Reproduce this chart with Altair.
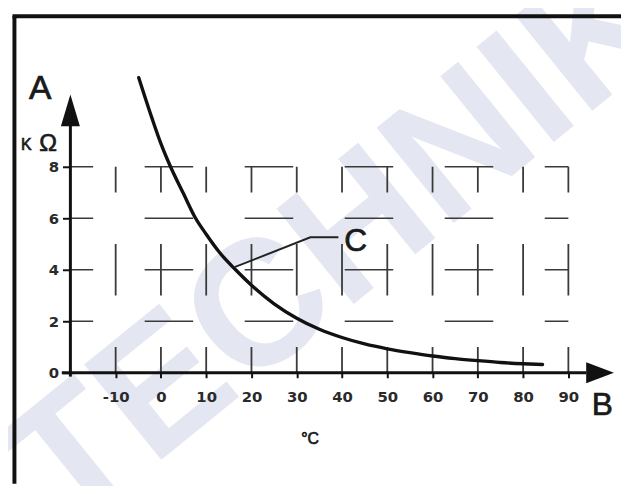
import altair as alt
import pandas as pd

# ---- data ----
temp_c = [-4.9, -2, 0, 2, 5, 7.5, 10, 13, 16.5, 20, 25, 30, 35, 40, 45, 50, 55, 60, 65, 70, 75, 80, 84.3]
res_kohm = [11.46, 9.9, 8.9, 8.05, 6.95, 6.05, 5.38, 4.66, 4.0, 3.4, 2.68, 2.12, 1.69, 1.37, 1.12, 0.93, 0.78, 0.65, 0.55, 0.47, 0.4, 0.35, 0.32]

x_ticks = [-10, 0, 10, 20, 30, 40, 50, 60, 70, 80, 90]
y_ticks = [0, 2, 4, 6, 8]
grid_rows = [2, 4, 6, 8]
grid_x_span = [-20, 90]
grid_y_span = [0, 8]

axis_x_span = [-21.9, 94.0]
axis_y_span = [-0.15, 9.6]
arrow_x_tip = [97.0, 0.0]
arrow_y_tip = [-20.0, 10.19]

leader_t = [16.25, 33.0, 39.2]
leader_r = [4.10, 5.26, 5.26]

label_text = ["A", "K", "Ω", "B", "C", "°C"]
label_t = [-26.67, -29.73, -24.9, 97.47, 43.0, 32.94]
label_r = [11.02, 8.85, 8.9, -1.27, 5.13, -2.56]
label_size = [34, 16, 24, 32, 32, 16]

watermark = "TECHNIK"
watermark_pos = [39.9, 4.96]

# ---- scales / axes ----
xs = alt.Scale(domain=[-20, 99], nice=False, zero=False)
ys = alt.Scale(domain=[0, 14], nice=False, zero=False)

x_axis = alt.Axis(values=x_ticks, domain=False, grid=False, tickSize=5, tickWidth=2,
                  tickColor="#111111", labelFont="DejaVu Sans", labelFontSize=15,
                  labelFontWeight="bold", labelColor="#2a2a2a", labelPadding=12,
                  labelFlush=False, labelOverlap=False, labelExpr="datum.value + ''",
                  zindex=2, title=None)
y_axis = alt.Axis(values=y_ticks, domain=False, grid=False, tickSize=8, tickWidth=2,
                  tickColor="#111111", labelFont="DejaVu Sans", labelFontSize=15,
                  labelFontWeight="bold", labelColor="#2a2a2a", labelPadding=4,
                  labelOverlap=False, zindex=2, title=None)


def X(f):
    return alt.X(f, type="quantitative", scale=xs, axis=x_axis, title=None)


def X2(f):
    return alt.X2(f)


def Y(f):
    return alt.Y(f, type="quantitative", scale=ys, axis=y_axis, title=None)


def Y2(f):
    return alt.Y2(f)


one = pd.DataFrame({"a": [0]})

wm = alt.Chart(pd.DataFrame({"x": [watermark_pos[0]], "y": [watermark_pos[1]], "txt": [watermark]})).mark_text(
    angle=321, fontSize=180, fontWeight="bold", font="Liberation Sans", color="#e4e7f1",
    align="center", baseline="middle").encode(x=X("x"), y=Y("y"), text="txt:N")

frame_left = alt.Chart(one).mark_rule(color="#111111", strokeWidth=4).encode(
    x=alt.value(-56.5), y=alt.value(4), y2=alt.value(476))
frame_top = alt.Chart(one).mark_rule(color="#111111", strokeWidth=4).encode(
    y=alt.value(4), x=alt.value(-58.5), x2=alt.value(556))

hgrid = alt.Chart(pd.DataFrame({"y": grid_rows, "x": [grid_x_span[0]] * len(grid_rows),
                                "x2": [grid_x_span[1]] * len(grid_rows)})).mark_rule(
    color="#3a3a3a", strokeWidth=1.6, strokeDash=[49, 52], strokeDashOffset=26).encode(
    x=X("x"), x2=X2("x2"), y=Y("y"))

vgrid = alt.Chart(pd.DataFrame({"x": x_ticks, "y": [grid_y_span[0]] * len(x_ticks),
                                "y2": [grid_y_span[1]] * len(x_ticks)})).mark_rule(
    color="#3a3a3a", strokeWidth=1.8, strokeDash=[52, 52], strokeDashOffset=26).encode(
    x=X("x"), y=Y("y"), y2=Y2("y2"))

x_axis_line = alt.Chart(pd.DataFrame({"x": [axis_x_span[0]], "x2": [axis_x_span[1]], "y": [0]})).mark_rule(
    color="#111111", strokeWidth=3).encode(x=X("x"), x2=X2("x2"), y=Y("y"))
y_axis_line = alt.Chart(pd.DataFrame({"x": [-20], "y": [axis_y_span[0]], "y2": [axis_y_span[1]]})).mark_rule(
    color="#111111", strokeWidth=3).encode(x=X("x"), y=Y("y"), y2=Y2("y2"))

arrow_right = alt.Chart(pd.DataFrame({"x": [arrow_x_tip[0]], "y": [arrow_x_tip[1]]})).mark_point(
    shape="M-1,-0.75L1,0L-1,0.75Z", filled=True, size=784, color="#111111", opacity=1).encode(
    x=X("x"), y=Y("y"))
arrow_up = alt.Chart(pd.DataFrame({"x": [arrow_y_tip[0]], "y": [arrow_y_tip[1]]})).mark_point(
    shape="M-0.6,1L0,-1L0.6,1Z", filled=True, size=1024, color="#111111", opacity=1).encode(
    x=X("x"), y=Y("y"))

curve = alt.Chart(pd.DataFrame({"x": temp_c, "y": res_kohm})).mark_line(
    color="#111111", strokeWidth=3.4, interpolate="monotone", strokeCap="round").encode(
    x=X("x"), y=Y("y"))

leader = alt.Chart(pd.DataFrame({"x": leader_t, "y": leader_r, "o": list(range(len(leader_t)))})).mark_line(
    color="#222222", strokeWidth=2).encode(x=X("x"), y=Y("y"), order="o:Q")

labels = alt.Chart(pd.DataFrame({"x": label_t, "y": label_r, "txt": label_text, "fs": label_size})).mark_text(
    font="Liberation Sans", color="#1a1a1a", stroke="#1a1a1a", strokeWidth=0.7,
    align="center", baseline="middle").encode(
    x=X("x"), y=Y("y"), text="txt:N", size=alt.Size("fs:Q", scale=None, legend=None))

chart = alt.layer(
    wm, frame_left, frame_top, hgrid, vgrid, x_axis_line, y_axis_line,
    arrow_right, arrow_up, curve, leader, labels
).properties(
    width=544, height=364,
    autosize=alt.AutoSizeParams(type="none"),
    padding={"left": 63, "top": 2, "right": 12, "bottom": 112},
    background="white",
).configure_view(stroke=None)

chart.save("out.html", embed_options={"renderer": "svg", "actions": False})
